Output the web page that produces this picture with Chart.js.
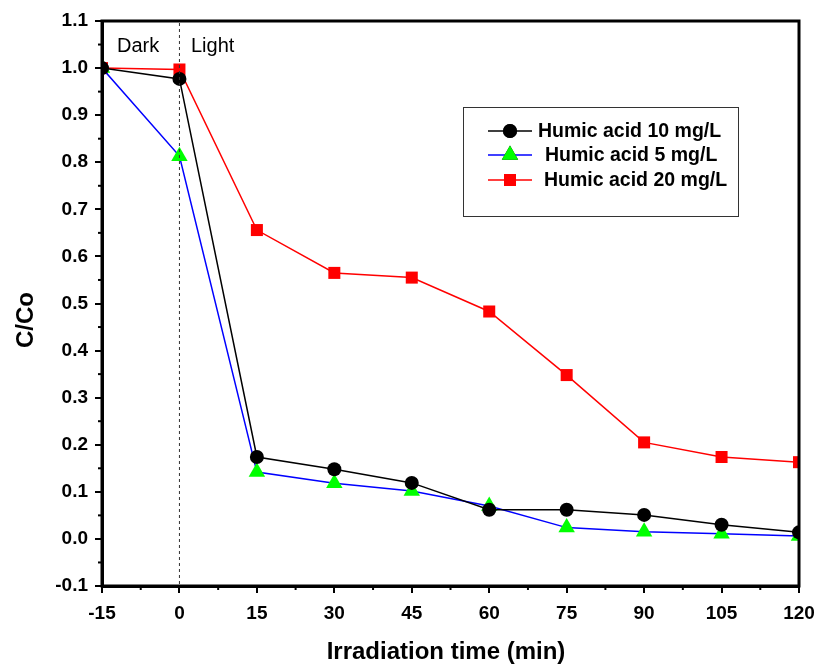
<!DOCTYPE html>
<html>
<head>
<meta charset="utf-8">
<script src="https://cdn.jsdelivr.net/npm/chart.js@4.4.1/dist/chart.umd.min.js"></script>
<style>
html,body{margin:0;padding:0;background:#fff;}
#wrap{width:818px;height:664px;position:relative;}
</style>
</head>
<body>
<div id="wrap"><canvas id="chartCanvas" width="818" height="664"></canvas></div>
<script>

// irradiation time (min)
const times = [-15, 0, 15, 30, 45, 60, 75, 90, 105, 120];

// C/Co values
const humic10 = [1.0, 0.977, 0.174, 0.148, 0.119, 0.062, 0.062, 0.051, 0.030, 0.014];
const humic5 = [1.0, 0.813, 0.142, 0.118, 0.102, 0.070, 0.024, 0.015, 0.011, 0.006];
const humic20 = [1.0, 0.997, 0.656, 0.565, 0.555, 0.483, 0.348, 0.205, 0.174, 0.163];

const seriesNames = ["Humic acid 10 mg/L", "Humic acid 5 mg/L", "Humic acid 20 mg/L"];

const xTicks = [-15, 0, 15, 30, 45, 60, 75, 90, 105, 120];
const yTicks = [-0.1, 0.0, 0.1, 0.2, 0.3, 0.4, 0.5, 0.6, 0.7, 0.8, 0.9, 1.0, 1.1];

function toPoints(vals){
return times.map((t,i)=>({x:t, y:vals[i]}));
}

const FONT = "'Liberation Sans', Arial, sans-serif";

// frame, minor ticks, dashed divider, labels, titles and legend
const decorations = {
id:"decorations",
afterDraw(c){
const ctx = c.ctx;
const a = c.chartArea;
const xs = c.scales.x;
const ys = c.scales.y;

ctx.save();

// minor ticks
ctx.strokeStyle = "#000";
ctx.lineWidth = 2;
for(let i=0;i<xTicks.length-1;i++){
const px = xs.getPixelForValue((xTicks[i]+xTicks[i+1])/2);
ctx.beginPath();
ctx.moveTo(px, a.bottom);
ctx.lineTo(px, a.bottom+4);
ctx.stroke();
}
for(let i=0;i<yTicks.length-1;i++){
const py = ys.getPixelForValue((yTicks[i]+yTicks[i+1])/2);
ctx.beginPath();
ctx.moveTo(a.left, py);
ctx.lineTo(a.left-4, py);
ctx.stroke();
}

// frame
ctx.lineWidth = 3;
ctx.strokeRect(a.left, a.top, a.right-a.left, a.bottom-a.top);

// dark / light divider
const x0 = xs.getPixelForValue(0);
ctx.setLineDash([3,3]);
ctx.lineWidth = 1;
ctx.strokeStyle = "#333";
ctx.beginPath();
ctx.moveTo(x0, a.top+2);
ctx.lineTo(x0, a.bottom-2);
ctx.stroke();
ctx.setLineDash([]);

ctx.fillStyle = "#000";
ctx.font = "20px " + FONT;
ctx.textBaseline = "alphabetic";
ctx.textAlign = "left";
ctx.fillText("Dark", 117, 52);
ctx.fillText("Light", 191, 52);

// axis titles
ctx.font = "bold 24px " + FONT;
ctx.textAlign = "center";
ctx.textBaseline = "middle";
ctx.fillText("Irradiation time (min)", 446, 652);
ctx.save();
ctx.translate(26, 320);
ctx.rotate(-Math.PI/2);
ctx.fillText("C/Co", 0, 0);
ctx.restore();

// legend box
ctx.lineWidth = 1;
ctx.strokeStyle = "#333";
ctx.strokeRect(463.5, 107.5, 275, 109);

const rows = [131, 155, 180];
const textX = [538, 545, 544];
c.data.datasets.forEach((ds,i)=>{
const y = rows[i];
ctx.strokeStyle = ds.borderColor;
ctx.lineWidth = 1.5;
ctx.beginPath();
ctx.moveTo(488, y);
ctx.lineTo(532, y);
ctx.stroke();
Chart.helpers.drawPoint(ctx, {
pointStyle: ds.pointStyle,
radius: ds.pointRadius,
rotation: 0,
borderWidth: 0
}, 510, y);
ctx.fillStyle = ds.pointBackgroundColor;
ctx.fill();
ctx.fillStyle = "#000";
ctx.font = "bold 19.5px " + FONT;
ctx.textAlign = "left";
ctx.textBaseline = "middle";
ctx.fillText(seriesNames[i], textX[i], y+1);
});

ctx.restore();
}
};

const ctx = document.getElementById("chartCanvas");

const chart = new Chart(ctx,{

type:"line",

data:{
datasets:[
{
label: seriesNames[0],
data: toPoints(humic10),
borderColor:"#000000",
backgroundColor:"#000000",
pointBackgroundColor:"#000000",
pointBorderWidth:0,
pointStyle:"circle",
pointRadius:7,
borderWidth:1.5
},
{
label: seriesNames[1],
data: toPoints(humic5),
borderColor:"#0000ff",
backgroundColor:"#00ff00",
pointBackgroundColor:"#00ff00",
pointBorderWidth:0,
pointStyle:"triangle",
pointRadius:9.5,
borderWidth:1.5
},
{
label: seriesNames[2],
data: toPoints(humic20),
borderColor:"#ff0000",
backgroundColor:"#ff0000",
pointBackgroundColor:"#ff0000",
pointBorderWidth:0,
pointStyle:"rect",
pointRadius:8.5,
borderWidth:1.5
}
]
},

options:{
responsive:false,
animation:false,
layout:{padding:{left:0, top:21, right:19, bottom:0}},
plugins:{
legend:{display:false},
tooltip:{enabled:false}
},
scales:{
x:{
type:"linear",
min:-15,
max:120,
afterFit(s){ s.height = 78; s.paddingLeft = 0; s.paddingRight = 0; },
afterBuildTicks(s){ s.ticks = xTicks.map(v=>({value:v})); },
ticks:{
color:"#000",
padding:9,
font:{family:FONT, size:19, weight:"bold"},
callback:v=>String(v)
},
grid:{drawOnChartArea:false, drawTicks:true, tickLength:7, lineWidth:2, color:"#000"},
border:{display:true, width:3, color:"#000"}
},
y:{
min:-0.1,
max:1.1,
afterFit(s){ s.width = 102; s.paddingTop = 0; s.paddingBottom = 0; },
afterBuildTicks(s){ s.ticks = yTicks.map(v=>({value:v})); },
ticks:{
color:"#000",
padding:7,
font:{family:FONT, size:19, weight:"bold"},
callback:v=>Number(v).toFixed(1)
},
grid:{drawOnChartArea:false, drawTicks:true, tickLength:7, lineWidth:2, color:"#000"},
border:{display:true, width:3, color:"#000"}
}
}
},

plugins:[decorations]

});

</script>
</body>
</html>
